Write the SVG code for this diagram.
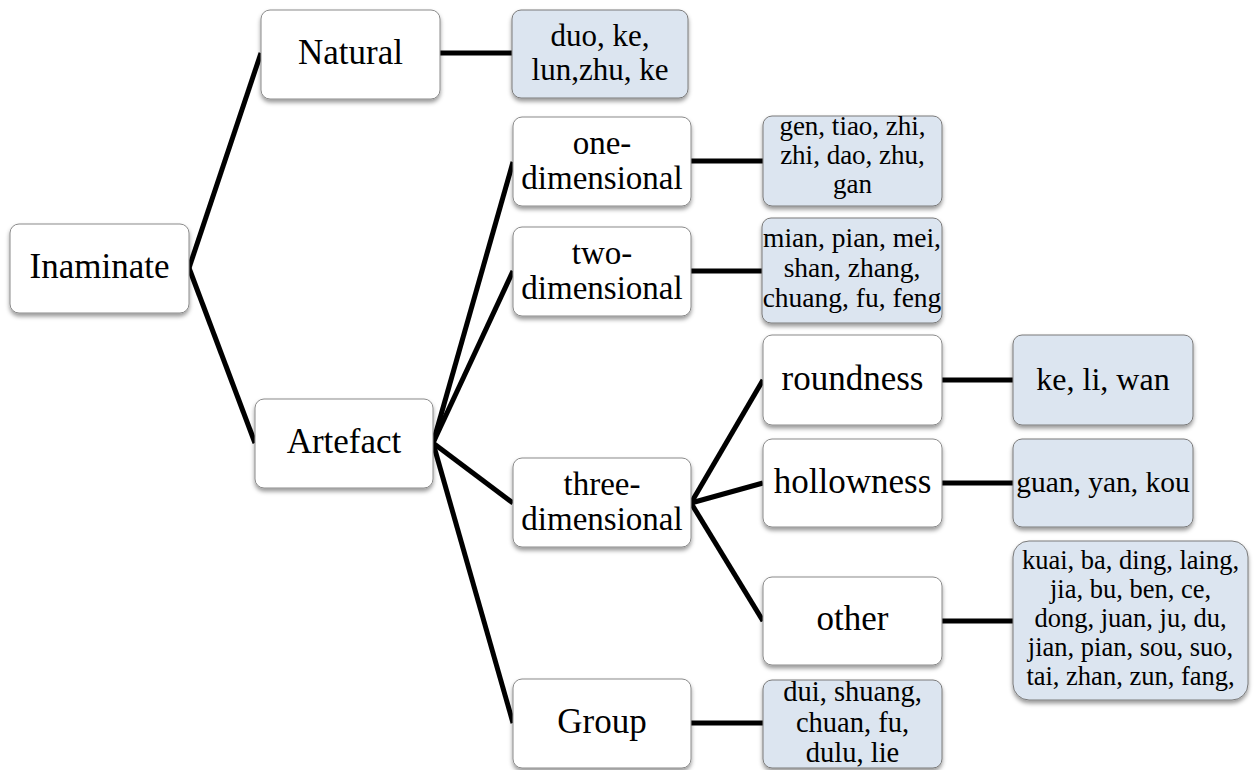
<svg xmlns="http://www.w3.org/2000/svg" width="1254" height="770" viewBox="0 0 1254 770">
<defs>
<filter id="sh" x="-10%" y="-10%" width="120%" height="130%">
<feDropShadow dx="0" dy="3" stdDeviation="2" flood-color="#000" flood-opacity="0.4"/>
</filter>
<style>
.box{fill:#ffffff;stroke:#8a8a8a;stroke-width:1;filter:url(#sh)}
.leaf{fill:#dce5f0;stroke:#7a7a7a;stroke-width:1;filter:url(#sh)}
.t{font-family:"Liberation Serif","Times New Roman",serif;fill:#000;text-anchor:middle;font-size:35px}
.t2{font-size:33px}
.c{stroke:#000;stroke-width:5;fill:none;stroke-linecap:butt}
</style>
</defs>
<rect width="1254" height="770" fill="#fff"/>
<g id="connectors">
<path class="c" d="M189,268 L261,53"/>
<path class="c" d="M189,268 L255,443"/>
<path class="c" d="M440,53 H512"/>
<path class="c" d="M433,443 L513,162"/>
<path class="c" d="M433,443 L513,271"/>
<path class="c" d="M433,443 L513,503"/>
<path class="c" d="M433,443 L513,723"/>
<path class="c" d="M691,161 H763"/>
<path class="c" d="M691,271 H763"/>
<path class="c" d="M691,503 L763,380"/>
<path class="c" d="M691,503 L763,483"/>
<path class="c" d="M691,503 L763,621"/>
<path class="c" d="M942,380 H1013"/>
<path class="c" d="M942,483 H1013"/>
<path class="c" d="M942,621 H1013"/>
<path class="c" d="M691,723 H763"/>
</g>
<g id="inaminate">
<rect class="box" x="10" y="224" width="179" height="89" rx="9"/>
<text class="t" x="99.5" y="278">Inaminate</text>
</g>
<g id="natural">
<rect class="box" x="261" y="10" width="179" height="89" rx="9"/>
<text class="t" x="350.5" y="64">Natural</text>
</g>
<g id="natural-leaf">
<rect class="leaf" x="512" y="10" width="176" height="88" rx="9"/>
<text class="t" style="font-size:31px" x="600" y="46">duo, ke,</text>
<text class="t" style="font-size:31px" x="600" y="80">lun,zhu, ke</text>
</g>
<g id="artefact">
<rect class="box" x="255" y="399" width="178" height="89" rx="9"/>
<text class="t" x="344" y="453">Artefact</text>
</g>
<g id="one-dimensional">
<rect class="box" x="513" y="117" width="178" height="89" rx="9"/>
<text class="t t2" x="602" y="154">one-</text>
<text class="t t2" x="602" y="189">dimensional</text>
</g>
<g id="one-leaf">
<rect class="leaf" x="763" y="116" width="179" height="90" rx="9"/>
<text class="t" style="font-size:27px" x="852.5" y="135">gen, tiao, zhi,</text>
<text class="t" style="font-size:27px" x="852.5" y="164">zhi, dao, zhu,</text>
<text class="t" style="font-size:27px" x="852.5" y="193">gan</text>
</g>
<g id="two-dimensional">
<rect class="box" x="513" y="227" width="178" height="89" rx="9"/>
<text class="t t2" x="602" y="264">two-</text>
<text class="t t2" x="602" y="299">dimensional</text>
</g>
<g id="two-leaf">
<rect class="leaf" x="762" y="218" width="180" height="105" rx="9"/>
<text class="t" style="font-size:27.5px" x="852" y="247">mian, pian, mei,</text>
<text class="t" style="font-size:27.5px" x="852" y="277">shan, zhang,</text>
<text class="t" style="font-size:27.5px" x="852" y="307">chuang, fu, feng</text>
</g>
<g id="three-dimensional">
<rect class="box" x="513" y="458" width="178" height="89" rx="9"/>
<text class="t t2" x="602" y="495">three-</text>
<text class="t t2" x="602" y="530">dimensional</text>
</g>
<g id="roundness">
<rect class="box" x="763" y="335" width="179" height="90" rx="9"/>
<text class="t" x="852.5" y="390">roundness</text>
</g>
<g id="roundness-leaf">
<rect class="leaf" x="1013" y="335" width="180" height="90" rx="9"/>
<text class="t" style="font-size:32px" x="1103" y="390">ke, li, wan</text>
</g>
<g id="hollowness">
<rect class="box" x="763" y="439" width="179" height="88" rx="9"/>
<text class="t" x="852.5" y="493">hollowness</text>
</g>
<g id="hollowness-leaf">
<rect class="leaf" x="1013" y="439" width="180" height="88" rx="9"/>
<text class="t" style="font-size:29.5px" x="1103" y="492">guan, yan, kou</text>
</g>
<g id="other">
<rect class="box" x="763" y="577" width="179" height="88" rx="9"/>
<text class="t" x="852.5" y="630">other</text>
</g>
<g id="other-leaf">
<rect class="leaf" x="1013" y="541" width="235" height="159" rx="16"/>
<text class="t" style="font-size:26.5px" x="1130.5" y="568.5">kuai, ba, ding, laing,</text>
<text class="t" style="font-size:26.5px" x="1130.5" y="597.5">jia, bu, ben, ce,</text>
<text class="t" style="font-size:26.5px" x="1130.5" y="626.5">dong, juan, ju, du,</text>
<text class="t" style="font-size:26.5px" x="1130.5" y="655.5">jian, pian, sou, suo,</text>
<text class="t" style="font-size:26.5px" x="1130.5" y="684.5">tai, zhan, zun, fang,</text>
</g>
<g id="group">
<rect class="box" x="513" y="679" width="178" height="89" rx="9"/>
<text class="t" x="602" y="733">Group</text>
</g>
<g id="group-leaf">
<rect class="leaf" x="763" y="680" width="179" height="88" rx="9"/>
<text class="t" style="font-size:28.5px" x="852.5" y="701">dui, shuang,</text>
<text class="t" style="font-size:28.5px" x="852.5" y="731.5">chuan, fu,</text>
<text class="t" style="font-size:28.5px" x="852.5" y="762">dulu, lie</text>
</g>
</svg>
